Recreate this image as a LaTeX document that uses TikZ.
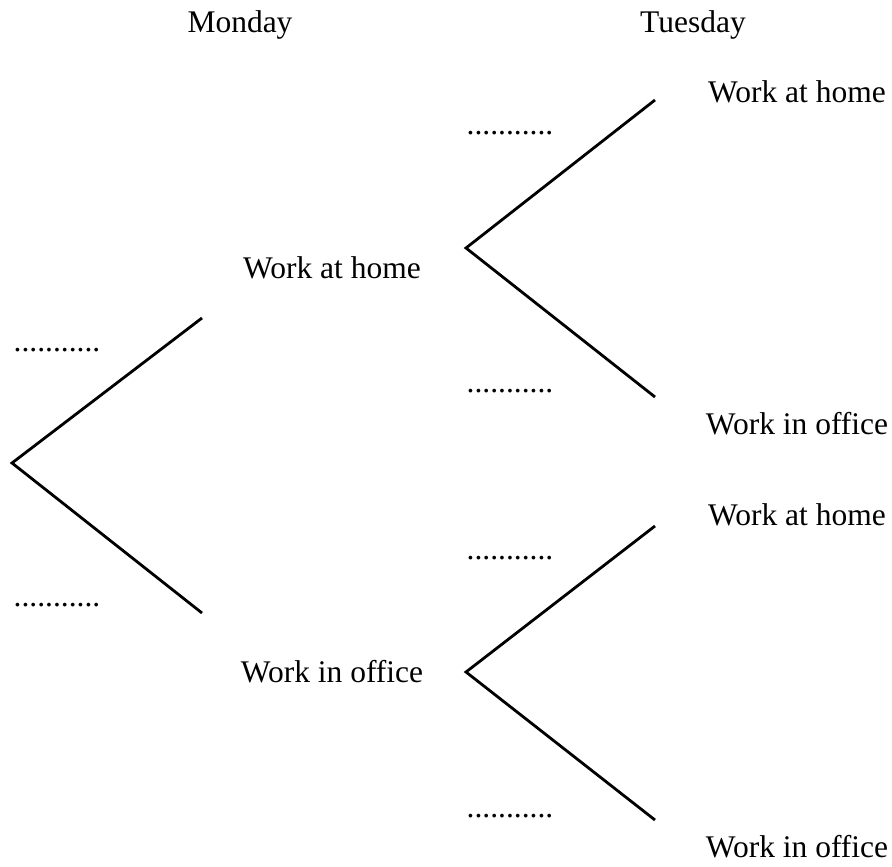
\documentclass[tikz,border=0pt]{standalone}
\usepackage{fontspec}
\setmainfont{Liberation Serif}
\usepackage{tikz}

\begin{document}
\begin{tikzpicture}[x=1pt, y=-1pt, line width=2.8pt, every node/.style={font=\fontsize{31.5}{38}\selectfont}]
        \useasboundingbox (0,0) rectangle (892,867);
        \node (mon) at (240,25) {Monday};
        \node (tue) at (693,25) {Tuesday};

        \coordinate (root) at (12,463);
        \coordinate (up) at (202,318);
        \coordinate (down) at (202,613);
        \node (home) at (332,268) {Work at home};
        \node (office) at (332,672) {Work in office};
        \node (p1) at (57,350) {...........};
        \node (p2) at (57,605) {...........};

        \coordinate (hroot) at (466,248);
        \coordinate (hup) at (655,100);
        \coordinate (hdown) at (655,397);
        \node (hh) at (797,92) {Work at home};
        \node (ho) at (797,424) {Work in office};
        \node (p3) at (510,133) {...........};
        \node (p4) at (510,391) {...........};

        \coordinate (oroot) at (466,672);
        \coordinate (oup) at (655,526);
        \coordinate (odown) at (655,820);
        \node (oh) at (797,515) {Work at home};
        \node (oo) at (797,847) {Work in office};
        \node (p5) at (510,558) {...........};
        \node (p6) at (510,816) {...........};

        \draw (up) -- (root) -- (down);
        \draw (hup) -- (hroot) -- (hdown);
        \draw (oup) -- (oroot) -- (odown);
      \end{tikzpicture}
\end{document}
